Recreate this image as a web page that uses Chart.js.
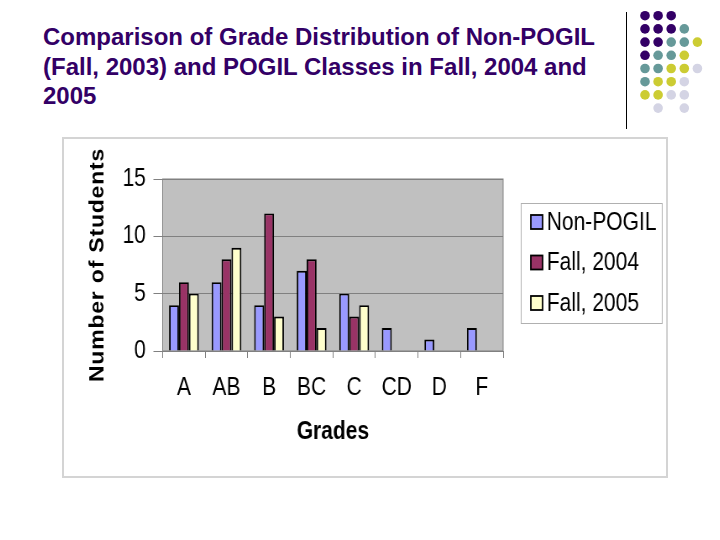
<!DOCTYPE html>
<html>
<head>
<meta charset="utf-8">
<script src="https://cdn.jsdelivr.net/npm/chart.js@4.4.1/dist/chart.umd.min.js"></script>
<style>
  body { margin: 0; width: 720px; height: 540px; background: #fff; position: relative; overflow: hidden; }
  #titulo { position: absolute; left: 43px; top: 22px; font: bold 24px "Liberation Sans", Arial, sans-serif; line-height: 29.5px; color: #330066; white-space: nowrap; }
  #linea { position: absolute; left: 626px; top: 12px; width: 1px; height: 117px; background: #000; }
  #deco { position: absolute; left: 628px; top: 0; }
  #caja { position: absolute; left: 62px; top: 137px; width: 606px; height: 341px; border: 2px solid #d4d4d4; box-sizing: border-box; }
  #grafico { display: block; }
</style>
</head>
<body>
<div id="titulo">Comparison of Grade Distribution of Non-POGIL<br>(Fall, 2003) and POGIL Classes in Fall, 2004 and<br>2005</div>
<div id="linea"></div>
<canvas id="deco" width="90" height="125"></canvas>
<!-- el grafico original viene comprimido a lo ancho: canvas de 717 mostrado en 602 -->
<div id="caja"><canvas id="grafico" width="717" height="337" style="width:602px;height:337px"></canvas></div>
<script>
const grados = ["A", "AB", "B", "BC", "C", "CD", "D", "F"];
const nonPogil = [4, 6, 4, 7, 5, 2, 1, 2];
const fall2004 = [6, 8, 12, 8, 3, 0, 0, 0];
const fall2005 = [5, 9, 3, 2, 4, 0, 0, 0];
const nombresSeries = ["Non-POGIL", "Fall, 2004", "Fall, 2005"];

const fuente = "'Liberation Sans', Arial, sans-serif";

// puntitos decorativos de la esquina
const patron = ["PPP..", "PPPT.", "PPTTY", "PTTY.", "TTYYL", "TYYL.", "YYLL.", ".L.L."];
const coloresPunto = { P: "#330066", T: "#669999", Y: "#cccc33", L: "#d4d4e4" };
const dctx = document.getElementById("deco").getContext("2d");
patron.forEach((fila, i) => {
    [...fila].forEach((c, j) => {
        if (c === ".") return;
        dctx.fillStyle = coloresPunto[c];
        dctx.beginPath();
        dctx.arc(17 + j * 13.1, 15.7 + i * 13.2, 4.8, 0, Math.PI * 2);
        dctx.fill();
    });
});

const fondoArea = {
    id: "fondoArea",
    beforeDraw(chart) {
        const { ctx, chartArea: a } = chart;
        ctx.save();
        ctx.fillStyle = "#c0c0c0";
        ctx.fillRect(a.left, a.top, a.right - a.left, a.bottom - a.top);
        ctx.strokeStyle = "#808080";
        ctx.lineWidth = 1;
        ctx.strokeRect(a.left, a.top, a.right - a.left, a.bottom - a.top);
        ctx.restore();
    }
};

const tituloEspaciado = {
    id: "tituloEspaciado",
    afterLayout(chart) {
        const y = chart.scales.y;
        if (y._espaciado) return;
        const original = y.drawTitle.bind(y);
        y.drawTitle = function (...args) {
            this.ctx.save();
            this.ctx.letterSpacing = "0.8px";
            original(...args);
            this.ctx.restore();
        };
        y._espaciado = true;
    }
};

const leyendaCaja = {
    id: "leyendaCaja",
    afterDraw(chart) {
        const ctx = chart.ctx;
        const x0 = 544, y0 = 64, w = 168, h = 120;
        ctx.save();
        ctx.fillStyle = "#fff";
        ctx.fillRect(x0, y0, w, h);
        ctx.strokeStyle = "#b0b0b0";
        ctx.lineWidth = 1;
        ctx.strokeRect(x0 + 0.5, y0 + 0.5, w, h);
        ctx.font = "25px " + fuente;
        ctx.textBaseline = "middle";
        chart.data.datasets.forEach((ds, i) => {
            const cy = y0 + 19 + i * 40.5;
            ctx.fillStyle = ds.backgroundColor;
            ctx.fillRect(x0 + 12, cy - 7, 14, 14);
            ctx.strokeStyle = "#000";
            ctx.lineWidth = 1.8;
            ctx.strokeRect(x0 + 12, cy - 7, 14, 14);
            ctx.fillStyle = "#000";
            ctx.fillText(ds.label, x0 + 31, cy + 1);
        });
        ctx.restore();
    }
};

const datos = {
    labels: grados,
    datasets: [
        { label: nombresSeries[0], data: nonPogil, backgroundColor: "#9999ff" },
        { label: nombresSeries[1], data: fall2004, backgroundColor: "#993366" },
        { label: nombresSeries[2], data: fall2005, backgroundColor: "#ffffcc" }
    ].map(d => ({ ...d, borderColor: "#000", borderWidth: 1.9, borderSkipped: "bottom", barPercentage: 1, categoryPercentage: 0.7 }))
};

new Chart(document.getElementById("grafico"), {
    type: "bar",
    data: datos,
    plugins: [fondoArea, tituloEspaciado, leyendaCaja],
    options: {
        responsive: false,
        animation: false,
        devicePixelRatio: 1,
        layout: { padding: { left: 0, right: 194, top: 40, bottom: 0 } },
        plugins: { legend: { display: false }, tooltip: { enabled: false } },
        scales: {
            x: {
                afterFit: s => { s.height = 125; },
                grid: { drawOnChartArea: false, drawTicks: true, tickLength: 7, color: "#808080" },
                border: { color: "#808080" },
                ticks: { color: "#000", padding: 15, font: { family: fuente, size: 25 } },
                title: { display: true, text: "Grades", color: "#000", padding: { top: 0, bottom: 29 }, font: { family: fuente, size: 25, weight: "bold" } }
            },
            y: {
                min: 0,
                max: 15,
                afterFit: s => { s.width = 117.5; },
                grid: { color: "#808080", tickLength: 11 },
                border: { color: "#808080" },
                ticks: { stepSize: 5, color: "#000", padding: 9, font: { family: fuente, size: 25 } },
                title: { display: true, text: "Number of Students", color: "#000", padding: { top: 27, bottom: 0 }, font: { family: fuente, size: 23, weight: "bold" } }
            }
        }
    }
});
</script>
</body>
</html>
